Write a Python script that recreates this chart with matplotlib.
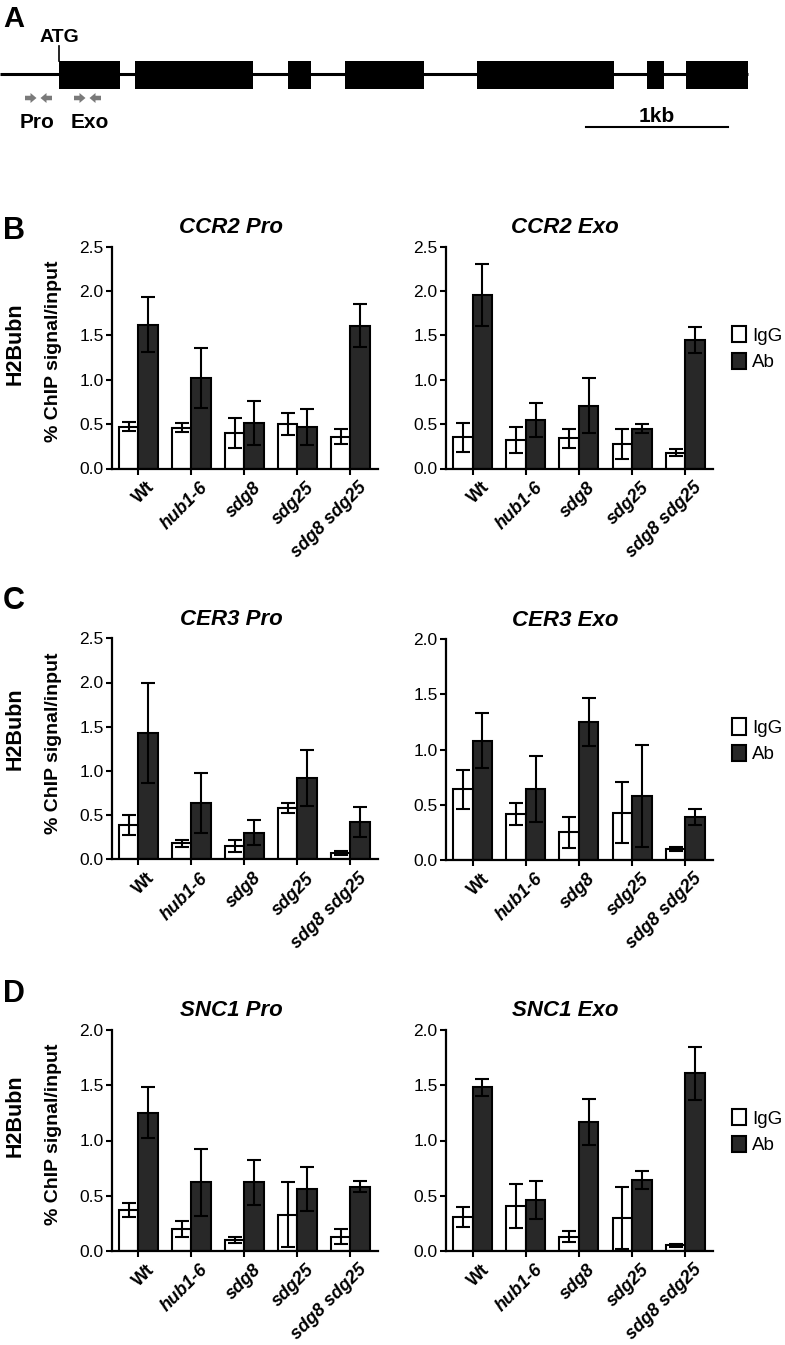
import matplotlib.pyplot as plt
import matplotlib.transforms as mtransforms
from matplotlib.patches import Rectangle, Patch
from matplotlib.ticker import FormatStrFormatter

plt.rcParams["font.family"] = ["Liberation Sans", "DejaVu Sans"]

W, H = 785, 1345
fig = plt.figure(figsize=(W / 100, H / 100), dpi=100)

# ---- data ----
# gene model (positions in drawing units, 1 kb ~ 142 units)
exon_start = [59, 135, 288, 345, 477, 647, 686]
exon_end = [120, 253, 311, 424, 614, 664, 748]
gene_end = 748
scale_start, scale_end = 586, 728

genotypes = ["Wt", "hub1-6", "sdg8", "sdg25", "sdg8 sdg25"]

ccr2_pro_igg = [0.47, 0.46, 0.40, 0.50, 0.36]
ccr2_pro_igg_err = [0.05, 0.05, 0.17, 0.12, 0.08]
ccr2_pro_ab = [1.62, 1.02, 0.51, 0.47, 1.61]
ccr2_pro_ab_err = [0.31, 0.34, 0.25, 0.20, 0.24]

ccr2_exo_igg = [0.35, 0.32, 0.34, 0.28, 0.18]
ccr2_exo_igg_err = [0.16, 0.15, 0.11, 0.17, 0.04]
ccr2_exo_ab = [1.96, 0.55, 0.71, 0.45, 1.45]
ccr2_exo_ab_err = [0.35, 0.19, 0.31, 0.05, 0.15]

cer3_pro_igg = [0.39, 0.18, 0.15, 0.58, 0.07]
cer3_pro_igg_err = [0.11, 0.04, 0.07, 0.06, 0.02]
cer3_pro_ab = [1.43, 0.64, 0.30, 0.92, 0.42]
cer3_pro_ab_err = [0.57, 0.34, 0.14, 0.32, 0.17]

cer3_exo_igg = [0.64, 0.42, 0.25, 0.43, 0.10]
cer3_exo_igg_err = [0.18, 0.10, 0.14, 0.28, 0.02]
cer3_exo_ab = [1.08, 0.64, 1.25, 0.58, 0.39]
cer3_exo_ab_err = [0.25, 0.30, 0.22, 0.46, 0.07]

snc1_pro_igg = [0.37, 0.20, 0.10, 0.33, 0.13]
snc1_pro_igg_err = [0.06, 0.07, 0.03, 0.29, 0.07]
snc1_pro_ab = [1.25, 0.62, 0.62, 0.56, 0.58]
snc1_pro_ab_err = [0.23, 0.30, 0.20, 0.20, 0.05]

snc1_exo_igg = [0.31, 0.41, 0.13, 0.30, 0.05]
snc1_exo_igg_err = [0.09, 0.20, 0.05, 0.28, 0.01]
snc1_exo_ab = [1.48, 0.46, 1.17, 0.64, 1.61]
snc1_exo_ab_err = [0.08, 0.17, 0.21, 0.08, 0.24]

AB_COLOR = "#282828"


def px_axes(x0, y0, x1, y1):
    return fig.add_axes([x0 / W, 1 - y1 / H, (x1 - x0) / W, (y1 - y0) / H])


def ftext(x, y, s, **kw):
    fig.text(x / W, 1 - y / H, s, **kw)


# ---- panel A: gene model ----
axa = px_axes(0, 0, W, 140)
axa.set_xlim(0, W)
axa.set_ylim(140, 0)
axa.axis("off")
axa.plot([0, gene_end], [74, 74], color="black", lw=2.2, solid_capstyle="butt")
for s, e in zip(exon_start, exon_end):
    axa.add_patch(Rectangle((s, 61), e - s, 27.5, facecolor="black", edgecolor="none"))
axa.plot([exon_start[0], exon_start[0]], [46, 61], color="black", lw=1.2)
axa.text(exon_start[0], 42, "ATG", ha="center", va="baseline", fontsize=14, fontweight="bold")
for x0, dx in [(25, 1), (52, -1), (74, 1), (101, -1)]:
    axa.arrow(x0, 98, 5.5 * dx, 0, width=4.5, head_width=10, head_length=6,
              length_includes_head=False, color="#7a7a7a", lw=0)
axa.text(37, 128, "Pro", ha="center", va="baseline", fontsize=15, fontweight="bold")
axa.text(90, 128, "Exo", ha="center", va="baseline", fontsize=15, fontweight="bold")
axa.plot([scale_start, scale_end], [127, 127], color="black", lw=1.5)
axa.text((scale_start + scale_end) / 2, 122, "1kb", ha="center", va="baseline",
         fontsize=15, fontweight="bold")
ftext(14, 19, "A", ha="center", va="center", fontsize=21, fontweight="bold")

# ---- bar panels ----
panels = [
    ("CCR2 Pro", ccr2_pro_igg, ccr2_pro_igg_err, ccr2_pro_ab, ccr2_pro_ab_err, 2.5, 0, 246.7, 468.5),
    ("CCR2 Exo", ccr2_exo_igg, ccr2_exo_igg_err, ccr2_exo_ab, ccr2_exo_ab_err, 2.5, 1, 246.7, 468.5),
    ("CER3 Pro", cer3_pro_igg, cer3_pro_igg_err, cer3_pro_ab, cer3_pro_ab_err, 2.5, 0, 638.3, 859.3),
    ("CER3 Exo", cer3_exo_igg, cer3_exo_igg_err, cer3_exo_ab, cer3_exo_ab_err, 2.0, 1, 639.3, 860),
    ("SNC1 Pro", snc1_pro_igg, snc1_pro_igg_err, snc1_pro_ab, snc1_pro_ab_err, 2.0, 0, 1030, 1251),
    ("SNC1 Exo", snc1_exo_igg, snc1_exo_igg_err, snc1_exo_ab, snc1_exo_ab_err, 2.0, 1, 1030, 1251),
]
col_x = [(112, 378), (446, 713)]
title_x = [231, 565]

bw = 0.367
x = list(range(len(genotypes)))
err_style = dict(ecolor="black", elinewidth=1.5, capsize=5, capthick=1.5)
for title, igg, igg_err, ab, ab_err, ymax, col, top, bottom in panels:
    x0, x1 = col_x[col]
    ax = px_axes(x0, top, x1, bottom)
    ax.bar([i - bw / 2 for i in x], igg, bw, color="white", edgecolor="black", linewidth=1.5,
           yerr=igg_err, error_kw=err_style, zorder=2)
    ax.bar([i + bw / 2 for i in x], ab, bw, color=AB_COLOR, edgecolor="black", linewidth=1.5,
           yerr=ab_err, error_kw=err_style, zorder=2)
    ax.set_xlim(-0.5, 4.52)
    ax.set_ylim(0, ymax)
    ax.set_yticks([v * 0.5 for v in range(int(ymax / 0.5) + 1)])
    ax.yaxis.set_major_formatter(FormatStrFormatter("%.1f"))
    for sp in ["top", "right"]:
        ax.spines[sp].set_visible(False)
    for sp in ["left", "bottom"]:
        ax.spines[sp].set_linewidth(1.6)
    ax.tick_params(axis="both", width=1.5, length=4, direction="out")
    ax.tick_params(axis="y", labelsize=12.5, pad=2)
    ax.set_xticks(x)
    ax.set_xticklabels(genotypes, rotation=45, ha="right", va="top",
                       rotation_mode="anchor", fontsize=13, fontweight="bold")
    offset = mtransforms.ScaledTranslation(8 / 100, 0, fig.dpi_scale_trans)
    for i, lab in enumerate(ax.get_xticklabels()):
        lab.set_transform(lab.get_transform() + offset)
        if i > 0:
            lab.set_style("italic")
    ftext(title_x[col], top - 13.5, title, ha="center", va="baseline",
          fontsize=16, fontweight="bold", style="italic")
    if col == 1:
        ax.legend(handles=[Patch(facecolor="white", edgecolor="black", linewidth=1.5),
                           Patch(facecolor=AB_COLOR, edgecolor="black", linewidth=1.5)],
                  labels=["IgG", "Ab"], loc="center left", bbox_to_anchor=(1.07, 0.54),
                  frameon=False, handlelength=0.75, handleheight=0.95, handletextpad=0.35,
                  labelspacing=0.42, borderaxespad=0, borderpad=0, fontsize=13.5)

# row labels
rows = [("B", 231, 344, 351.5), ("C", 601, 729, 743), ("D", 994, 1116, 1134.5)]
for letter, ly, hy, cy in rows:
    ftext(14, ly, letter, ha="center", va="center", fontsize=22, fontweight="bold")
    ftext(15, hy, "H2Bubn", ha="center", va="center", rotation=90, fontsize=15.5, fontweight="bold")
    ftext(54, cy, "% ChIP signal/input", ha="center", va="center", rotation=90,
          fontsize=14, fontweight="bold")

plt.savefig("out.png", dpi=100)
plt.close()
